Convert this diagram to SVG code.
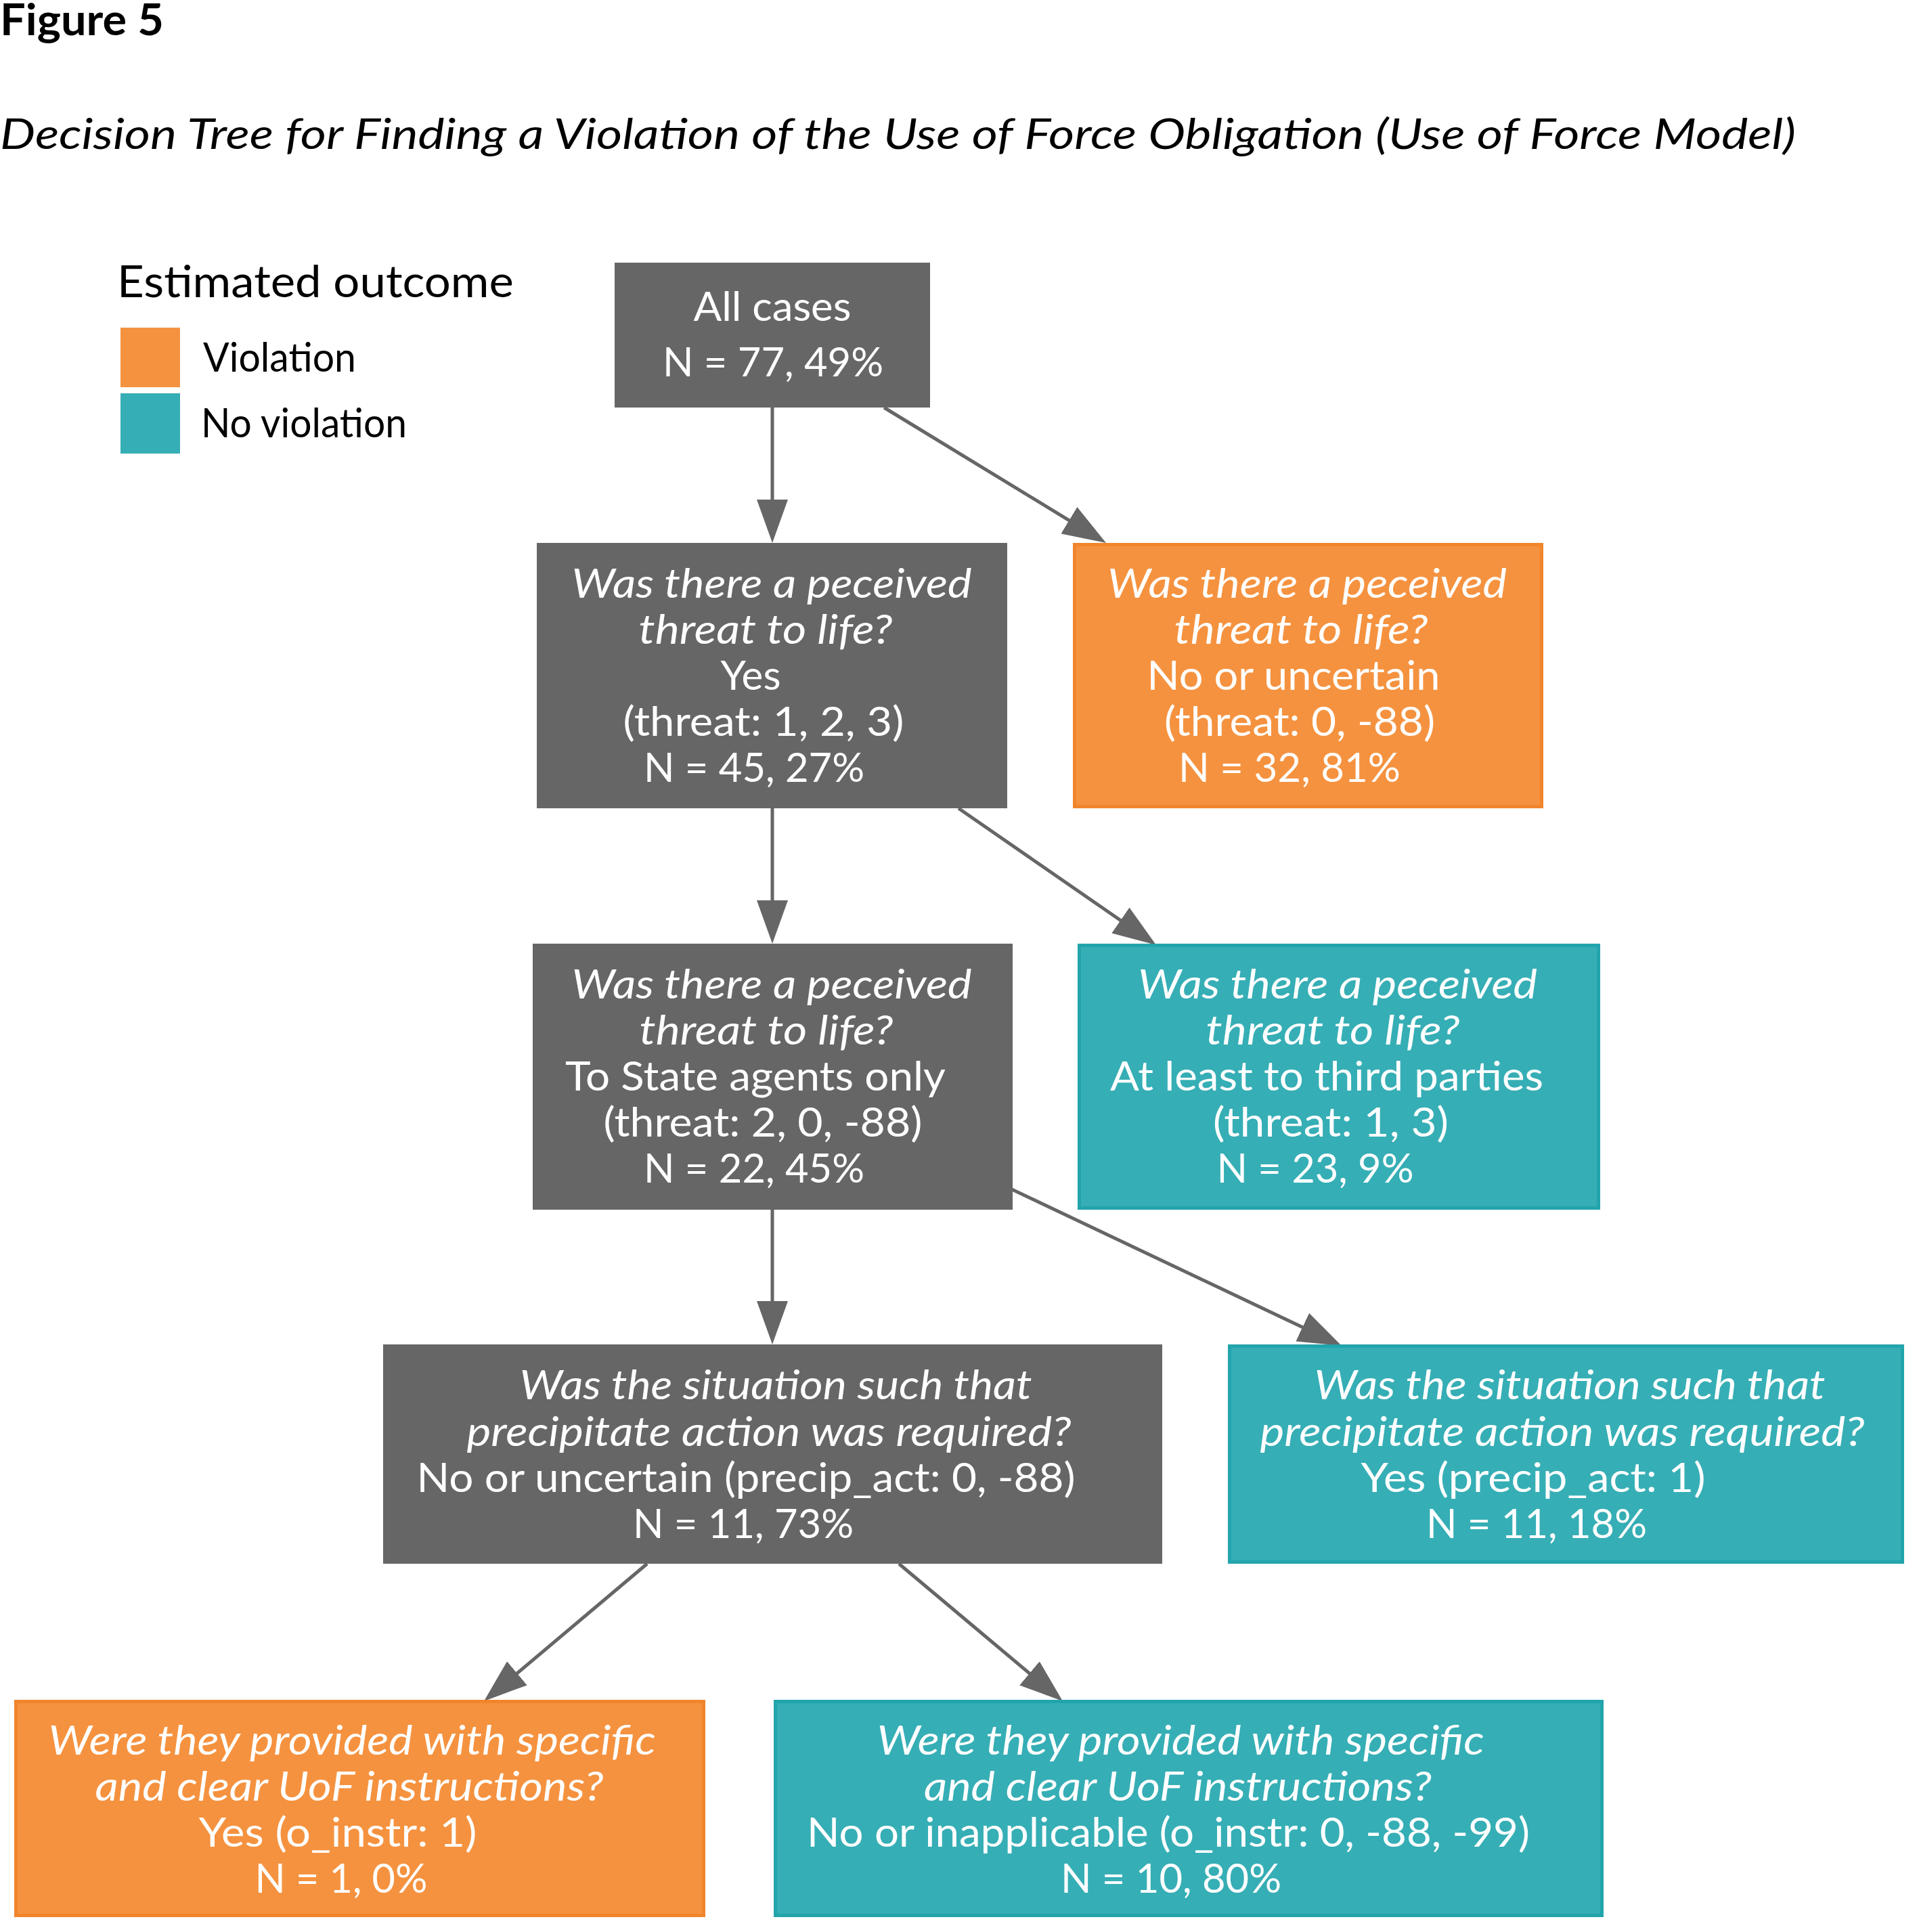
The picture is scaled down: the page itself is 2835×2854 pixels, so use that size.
<svg xmlns="http://www.w3.org/2000/svg" width="2835" height="2854" viewBox="0 0 2835 2854">
<style>
.bg{fill:#ffffff}
.gray{fill:#666666}
.orange{fill:#F5923F;stroke:#F0852C;stroke-width:5}
.teal{fill:#36AEB5;stroke:#22A4AC;stroke-width:5}
.lg-o{fill:#F5923F}
.lg-t{fill:#36AEB5}
.t{font-family:Lato,"Liberation Sans",sans-serif;font-size:60px;fill:#ffffff;text-anchor:middle}
.i{font-style:italic}
.leg{font-family:Lato,"Liberation Sans",sans-serif;font-size:60px;fill:#000000}
.edge{stroke:#666666;stroke-width:5;fill:none;marker-end:url(#arr)}
</style>
<defs>
<marker id="arr" viewBox="0 0 64 46" refX="54" refY="23" markerWidth="64" markerHeight="46" markerUnits="userSpaceOnUse" orient="auto">
<path d="M0,0 L64,23 L0,46 z" fill="#666666"/>
</marker>
</defs>
<rect class="bg" x="0" y="0" width="2835" height="2854"/>
<g id="title">
<text x="0" y="52" font-family="Lato,'Liberation Sans',sans-serif" font-weight="bold" font-size="65" fill="#000" textLength="242" lengthAdjust="spacingAndGlyphs">Figure 5</text>
<text x="0" y="220" font-family="Lato,'Liberation Sans',sans-serif" font-style="italic" font-size="63" fill="#000" textLength="2653" lengthAdjust="spacingAndGlyphs">Decision Tree for Finding a Violation of the Use of Force Obligation (Use of Force Model)</text>
</g>
<g id="legend">
<text x="173" y="439" font-family="Lato,'Liberation Sans',sans-serif" font-size="65" fill="#000" textLength="586" lengthAdjust="spacingAndGlyphs">Estimated outcome</text>
<rect class="lg-o" x="178" y="484" width="88" height="88"/>
<text class="leg" x="300" y="549" textLength="226" lengthAdjust="spacingAndGlyphs">Violation</text>
<rect class="lg-t" x="178" y="581" width="88" height="89"/>
<text class="leg" x="297" y="646" textLength="304" lengthAdjust="spacingAndGlyphs">No violation</text>
</g>
<g id="connectors">
<line class="edge" x1="1141" y1="602" x2="1141" y2="792"/>
<line class="edge" x1="1306" y1="602" x2="1625.5" y2="796.8"/>
<line class="edge" x1="1141" y1="1194" x2="1141" y2="1384"/>
<line class="edge" x1="1416" y1="1194" x2="1699.8" y2="1390.3"/>
<line class="edge" x1="1141" y1="1787" x2="1141" y2="1976"/>
<line class="edge" x1="1495" y1="1757" x2="1973" y2="1983.7"/>
<line class="edge" x1="956" y1="2310" x2="722.6" y2="2506.6"/>
<line class="edge" x1="1328" y1="2310" x2="1562.3" y2="2506.6"/>
</g>
<g id="node-all">
<rect class="gray" x="908" y="388" width="466" height="214"/>
<text class="t" x="1141" y="474" textLength="233" lengthAdjust="spacingAndGlyphs">All cases</text>
<text class="t" x="1142" y="556" textLength="326" lengthAdjust="spacingAndGlyphs">N = 77, 49%</text>
</g>
<g id="node-threat-yes">
<rect class="gray" x="793" y="802" width="695" height="392"/>
<text class="t i" x="1140" y="883" textLength="591" lengthAdjust="spacingAndGlyphs">Was there a peceived</text>
<text class="t i" x="1131" y="951" textLength="375" lengthAdjust="spacingAndGlyphs">threat to life?</text>
<text class="t" x="1109" y="1019" textLength="89" lengthAdjust="spacingAndGlyphs">Yes</text>
<text class="t" x="1128" y="1087" textLength="415" lengthAdjust="spacingAndGlyphs">(threat: 1, 2, 3)</text>
<text class="t" x="1114" y="1155" textLength="326" lengthAdjust="spacingAndGlyphs">N = 45, 27%</text>
</g>
<g id="node-threat-no">
<rect class="orange" x="1587.5" y="804.5" width="690" height="387"/>
<text class="t i" x="1931" y="883" textLength="590" lengthAdjust="spacingAndGlyphs">Was there a peceived</text>
<text class="t i" x="1922" y="951" textLength="375" lengthAdjust="spacingAndGlyphs">threat to life?</text>
<text class="t" x="1911" y="1019" textLength="433" lengthAdjust="spacingAndGlyphs">No or uncertain</text>
<text class="t" x="1920" y="1087" textLength="400" lengthAdjust="spacingAndGlyphs">(threat: 0, -88)</text>
<text class="t" x="1905" y="1155" textLength="328" lengthAdjust="spacingAndGlyphs">N = 32, 81%</text>
</g>
<g id="node-state-agents">
<rect class="gray" x="787" y="1394" width="709" height="393"/>
<text class="t i" x="1140" y="1475" textLength="591" lengthAdjust="spacingAndGlyphs">Was there a peceived</text>
<text class="t i" x="1132" y="1543" textLength="375" lengthAdjust="spacingAndGlyphs">threat to life?</text>
<text class="t" x="1116" y="1611" textLength="562" lengthAdjust="spacingAndGlyphs">To State agents only</text>
<text class="t" x="1127" y="1679" textLength="471" lengthAdjust="spacingAndGlyphs">(threat: 2, 0, -88)</text>
<text class="t" x="1114" y="1747" textLength="326" lengthAdjust="spacingAndGlyphs">N = 22, 45%</text>
</g>
<g id="node-third-parties">
<rect class="teal" x="1594.5" y="1396.5" width="767" height="388"/>
<text class="t i" x="1976" y="1475" textLength="590" lengthAdjust="spacingAndGlyphs">Was there a peceived</text>
<text class="t i" x="1969" y="1543" textLength="375" lengthAdjust="spacingAndGlyphs">threat to life?</text>
<text class="t" x="1960" y="1611" textLength="640" lengthAdjust="spacingAndGlyphs">At least to third parties</text>
<text class="t" x="1966" y="1679" textLength="348" lengthAdjust="spacingAndGlyphs">(threat: 1, 3)</text>
<text class="t" x="1943" y="1747" textLength="291" lengthAdjust="spacingAndGlyphs">N = 23, 9%</text>
</g>
<g id="node-precip-no">
<rect class="gray" x="566" y="1986" width="1151" height="324"/>
<text class="t i" x="1146" y="2067" textLength="757" lengthAdjust="spacingAndGlyphs">Was the situation such that</text>
<text class="t i" x="1136" y="2136" textLength="893" lengthAdjust="spacingAndGlyphs">precipitate action was required?</text>
<text class="t" x="1102" y="2204" textLength="973" lengthAdjust="spacingAndGlyphs">No or uncertain (precip_act: 0, -88)</text>
<text class="t" x="1098" y="2272" textLength="326" lengthAdjust="spacingAndGlyphs">N = 11, 73%</text>
</g>
<g id="node-precip-yes">
<rect class="teal" x="1816.5" y="1988.5" width="994" height="319"/>
<text class="t i" x="2319" y="2067" textLength="755" lengthAdjust="spacingAndGlyphs">Was the situation such that</text>
<text class="t i" x="2308" y="2136" textLength="893" lengthAdjust="spacingAndGlyphs">precipitate action was required?</text>
<text class="t" x="2265" y="2204" textLength="509" lengthAdjust="spacingAndGlyphs">Yes (precip_act: 1)</text>
<text class="t" x="2270" y="2272" textLength="326" lengthAdjust="spacingAndGlyphs">N = 11, 18%</text>
</g>
<g id="node-instr-yes">
<rect class="orange" x="23.5" y="2513.5" width="1016" height="316"/>
<text class="t i" x="520" y="2592" textLength="897" lengthAdjust="spacingAndGlyphs">Were they provided with specific</text>
<text class="t i" x="516" y="2660" textLength="751" lengthAdjust="spacingAndGlyphs">and clear UoF instructions?</text>
<text class="t" x="499" y="2728" textLength="411" lengthAdjust="spacingAndGlyphs">Yes (o_instr: 1)</text>
<text class="t" x="504" y="2796" textLength="255" lengthAdjust="spacingAndGlyphs">N = 1, 0%</text>
</g>
<g id="node-instr-no">
<rect class="teal" x="1145.5" y="2513.5" width="1221" height="316"/>
<text class="t i" x="1744" y="2592" textLength="897" lengthAdjust="spacingAndGlyphs">Were they provided with specific</text>
<text class="t i" x="1740" y="2660" textLength="750" lengthAdjust="spacingAndGlyphs">and clear UoF instructions?</text>
<text class="t" x="1726" y="2728" textLength="1068" lengthAdjust="spacingAndGlyphs">No or inapplicable (o_instr: 0, -88, -99)</text>
<text class="t" x="1730" y="2796" textLength="326" lengthAdjust="spacingAndGlyphs">N = 10, 80%</text>
</g>
</svg>
